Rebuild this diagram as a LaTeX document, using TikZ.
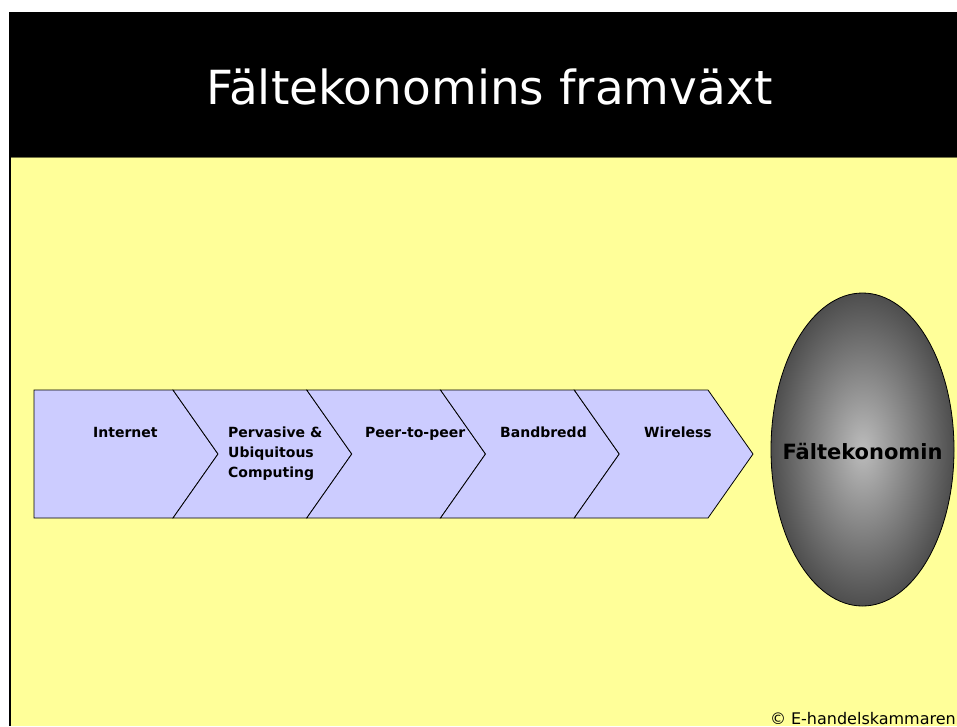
\documentclass[tikz,border=0pt]{standalone}
\usepackage{fontspec}
\setmainfont{DejaVu Sans}
\usetikzlibrary{shapes.geometric}

\definecolor{slideyellow}{RGB}{255,255,153}
\definecolor{chevronblue}{RGB}{204,204,255}
\definecolor{orbin}{RGB}{188,188,188}
\definecolor{orbout}{RGB}{78,78,78}
\pgfdeclareradialshading{orbshade}{\pgfpoint{0bp}{0bp}}{color(0bp)=(orbin); color(25bp)=(orbout); color(50bp)=(orbout)}

\begin{document}
\begin{tikzpicture}[x=1pt, y=-1pt,
    chevron/.style={draw=black, fill=chevronblue, line width=0.8pt, line join=miter},
    steplabel/.style={font=\fontsize{14}{20}\selectfont\bfseries, inner sep=0pt},
    slidetitle/.style={font=\fontsize{47}{56}\selectfont, text=white, inner sep=0pt},
    orb/.style={ellipse, draw=black, line width=0.8pt, shading=orbshade,
        minimum width=183pt, minimum height=313pt, inner sep=0pt},
    orblabel/.style={font=\fontsize{21}{25}\selectfont\bfseries, inner sep=0pt}]
    % Canvas
    \useasboundingbox (0,0) rectangle (957,726);
    \clip (0,0) rectangle (957,726);
    \fill[white] (0,0) rectangle (957,726);

    % Title band and slide body
    \fill[black] (9,12) rectangle (957,157);
    \fill[slideyellow] (11,157) rectangle (957,726);
    \draw[black!55!slideyellow] (11,157.5) -- (957,157.5);
    \fill[black] (9,157) rectangle (11,726);
    \node[slidetitle, anchor=base] (title) at (489.5,104) {Fältekonomins framväxt};

    % First chevron has a flat back
    \draw[chevron] (34,390) -- (173,390) -- (218,454) -- (173,518) -- (34,518) -- cycle;
    % The other four chevrons
    \foreach \i in {0,...,3} {
        \pgfmathsetmacro{\xl}{173+133.75*\i}
        \draw[chevron] (\xl,390) -- ++(133.75,0) -- ++(45,64) -- ++(-45,64)
            -- ++(-133.75,0) -- ++(45,-64) -- cycle;
    }

    % Chevron labels
    \node[steplabel, anchor=base west] (internet) at (93,437) {Internet};
    \node[steplabel, anchor=north west, align=left] (pervasive) at (228,427) {Pervasive \&\\Ubiquitous\\Computing};
    \node[steplabel, anchor=base west] (peer) at (365,437) {Peer-to-peer};
    \node[steplabel, anchor=base west] (bandbredd) at (500,437) {Bandbredd};
    \node[steplabel, anchor=base west] (wireless) at (644,437) {Wireless};

    % Where it all leads
    \node[orb] (falt) at (862.5,449.5) {};
    \node[orblabel, anchor=base] (faltlabel) at ([yshift=-9.5pt]falt.center) {Fältekonomin};

    % Copyright note
    \node[anchor=base east, font=\fontsize{16}{19}\selectfont, inner sep=0pt] (copyright) at (956,724) {© E-handelskammaren};
\end{tikzpicture}
\end{document}
